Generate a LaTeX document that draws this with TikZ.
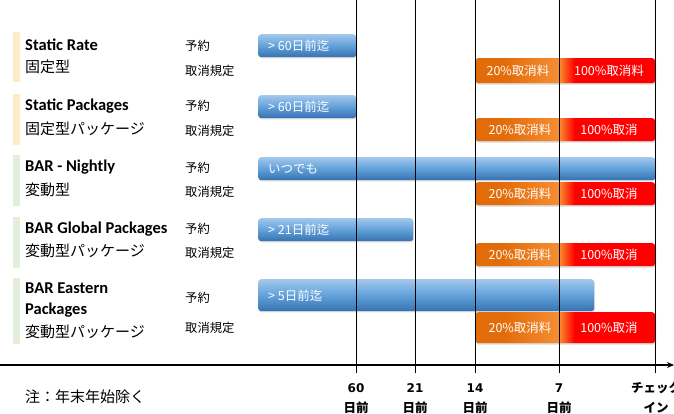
\documentclass[tikz,border=0pt]{standalone}
\usepackage{fontspec}
\setmainfont{Carlito}
\newfontfamily\jp{Noto Sans CJK JP}
\newfontfamily\dv{DejaVu Sans}
\usetikzlibrary{arrows.meta,shadows}
\definecolor{blueT}{HTML}{A2C8EC}
\definecolor{blueM}{HTML}{62A1DA}
\definecolor{blueB}{HTML}{3671B0}
\definecolor{orA}{HTML}{E36C0A}
\definecolor{orB}{HTML}{F58E34}
\definecolor{orC}{HTML}{FA7A28}
\definecolor{redC}{HTML}{FF0000}
\definecolor{beigeS}{HTML}{FDEBC9}
\definecolor{greenS}{HTML}{E2EFDA}
\pgfdeclarehorizontalshading{cancelshade}{100bp}{color(0bp)=(orA); color(25bp)=(orA); color(33bp)=(orA); color(48.4bp)=(orB); color(48.9bp)=(orC); color(52.6bp)=(redC); color(100bp)=(redC)}
\tikzset{
  sidebar/.style={fill=#1, draw=none, minimum width=7pt, inner sep=0pt, anchor=north west},
  titletext/.style={font=\fontsize{16.5}{18}\selectfont\bfseries, anchor=west, inner sep=0pt},
  subtext/.style={font=\jp\fontsize{15}{17}\selectfont, anchor=west, inner sep=0pt},
  kindtext/.style={font=\jp\fontsize{12.3}{14}\selectfont, anchor=west, inner sep=0pt},
  bluebar/.style={rounded corners=3pt, top color=blueT, bottom color=blueB, middle color=blueM, draw=none, inner sep=0pt, anchor=north west, minimum height=23pt,
    drop shadow={opacity=0.25, shadow xshift=0.8pt, shadow yshift=-1.2pt}},
  cancelbar/.style={rounded corners=3pt, shading=cancelshade, draw=none, inner sep=0pt, anchor=north west, minimum width=180pt, minimum height=25pt,
    drop shadow={opacity=0.3, shadow xshift=1pt, shadow yshift=-1.5pt}},
  bartext/.style={font=\jp\fontsize{12.5}{14}\selectfont, text=white, inner sep=0pt},
  vline/.style={draw=black, line width=1pt},
  ticknum/.style={font=\dv\fontsize{12}{14}\selectfont\bfseries, inner sep=0pt},
  tickjp/.style={font=\jp\fontsize{12.5}{14}\selectfont\bfseries, inner sep=0pt},
}
\begin{document}
\begin{tikzpicture}[x=1pt,y=-1pt]
\useasboundingbox (0,0) rectangle (674,414);
\fill[white] (0,0) rectangle (674,414);

% side bars
\node[sidebar=beigeS, minimum height=50pt] (s1) at (13,32) {};
\node[sidebar=beigeS, minimum height=51pt] (s2) at (13,94) {};
\node[sidebar=greenS, minimum height=51pt] (s3) at (13,155) {};
\node[sidebar=greenS, minimum height=51pt] (s4) at (13,217) {};
\node[sidebar=greenS, minimum height=66pt] (s5) at (13,278) {};

% titles
\node[titletext] (t1) at (25,45) {Static Rate};
\node[subtext] (j1) at (25,67) {固定型};
\node[titletext] (t2) at (25,106) {Static Packages};
\node[subtext] (j2) at (25,129) {固定型パッケージ};
\node[titletext] (t3) at (25,167) {BAR - Nightly};
\node[subtext] (j3) at (25,190) {変動型};
\node[titletext] (t4) at (25,229) {BAR Global Packages};
\node[subtext] (j4) at (25,251) {変動型パッケージ};
\node[titletext] (t5a) at (25,288) {BAR Eastern};
\node[titletext] (t5b) at (25,310) {Packages};
\node[subtext] (j5) at (25,332) {変動型パッケージ};

% kinds
\node[kindtext] (r1) at (185,46) {予約};
\node[kindtext] (c1k) at (185,71) {取消規定};
\node[kindtext] (r2) at (185,106) {予約};
\node[kindtext] (c2k) at (185,131) {取消規定};
\node[kindtext] (r3) at (185,168) {予約};
\node[kindtext] (c3k) at (185,192) {取消規定};
\node[kindtext] (r4) at (185,229) {予約};
\node[kindtext] (c4k) at (185,253) {取消規定};
\node[kindtext] (r5) at (185,298) {予約};
\node[kindtext] (c5k) at (185,328) {取消規定};

% blue bars
\node[bluebar, minimum width=98pt] (b1) at (258,34) {};
\node[bartext, anchor=west] (b1t) at ([xshift=10pt]b1.west) {>\ 60日前迄};
\node[bluebar, minimum width=98pt] (b2) at (258,95) {};
\node[bartext, anchor=west] (b2t) at ([xshift=10pt]b2.west) {>\ 60日前迄};
\node[bluebar, minimum width=397pt] (b3) at (258,157) {};
\node[bartext, anchor=west] (b3t) at ([xshift=10pt]b3.west) {いつでも};
\node[bluebar, minimum width=155pt] (b4) at (258,218) {};
\node[bartext, anchor=west] (b4t) at ([xshift=10pt]b4.west) {>\ 21日前迄};
\node[bluebar, minimum width=336pt, minimum height=32pt] (b5) at (258,279) {};
\node[bartext, anchor=west] (b5t) at ([xshift=10pt]b5.west) {>\ 5日前迄};

% cancel bars
\node[cancelbar] (c1) at (475,58) {};
\node[bartext] (c1a) at (518,70.5) {20\%取消料};
\node[bartext] (c1b) at (609,70.5) {100\%取消料};
\node[cancelbar, minimum height=23pt] (c2) at (475,118) {};
\node[bartext] (c2a) at (520,129.5) {20\%取消料};
\node[bartext] (c2b) at (609,129.5) {100\%取消};
\node[cancelbar, minimum height=23pt] (c3) at (475,182) {};
\node[bartext] (c3a) at (520,193.5) {20\%取消料};
\node[bartext] (c3b) at (609,193.5) {100\%取消};
\node[cancelbar, minimum height=23pt] (c4) at (475,243) {};
\node[bartext] (c4a) at (520,254.5) {20\%取消料};
\node[bartext] (c4b) at (609,254.5) {100\%取消};
\node[cancelbar, minimum height=31pt] (c5) at (475,312) {};
\node[bartext] (c5a) at (520,327.5) {20\%取消料};
\node[bartext] (c5b) at (609,327.5) {100\%取消};

% vertical lines
\foreach \n/\x in {60/356,21/415,14/475,7/559,ci/655}{
  \coordinate (top\n) at (\x,0);
  \coordinate (bot\n) at (\x,373);
  \draw[vline] (top\n) -- (bot\n);
}

% axis
\coordinate (axL) at (0,365);
\coordinate (axR) at (674,365);
\draw[line width=1.6pt, -{Stealth[length=7pt,width=6pt]}] (axL) -- (axR);

% tick labels
\node[ticknum] (n60) at (356,388) {60};
\node[tickjp] (d60) at (356,408) {日前};
\node[ticknum] (n21) at (415,388) {21};
\node[tickjp] (d21) at (415,408) {日前};
\node[ticknum] (n14) at (475,388) {14};
\node[tickjp] (d14) at (475,408) {日前};
\node[ticknum] (n7) at (559,388) {7};
\node[tickjp] (d7) at (559,408) {日前};
\node[tickjp] (nci) at (656,388) {チェック};
\node[tickjp] (dci) at (656,408) {イン};

% note
\node[subtext] (note) at (25,397) {注：年末年始除く};
\end{tikzpicture}
\end{document}
